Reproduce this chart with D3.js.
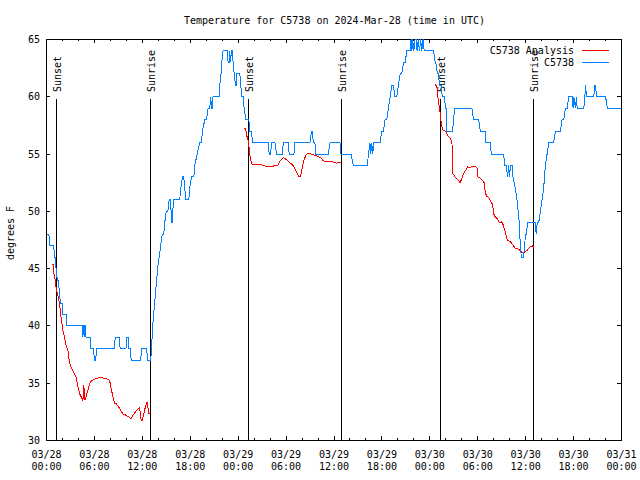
<!DOCTYPE html>
<html>
<head>
<meta charset="utf-8">
<script src="https://cdn.jsdelivr.net/npm/d3@7"></script>
<style>
  html, body { margin: 0; padding: 0; background: #fff; }
  text { font-family: "DejaVu Sans Mono", monospace; font-size: 10px; fill: #000; }
</style>
</head>
<body>
<svg id="chart" width="640" height="480"></svg>
<script>
// ---------- data (hours after 2024-03-28 00:00 UTC) ----------
const obsHours = [0.0,0.3,0.4,0.9,1.0,1.1,1.2,1.35,1.5,1.6,1.75,1.95,2.05,2.47,2.55,4.5,4.56,4.62,4.72,4.76,4.8,4.9,4.95,5.45,5.5,5.85,6.05,6.15,6.3,8.5,8.6,9.15,9.22,9.95,10.05,10.25,10.33,10.5,10.6,11.8,11.9,12.55,12.65,13.05,13.15,13.3,13.4,13.55,13.65,13.8,13.9,14.1,14.3,14.5,14.68,14.8,15.0,15.2,15.35,15.51,15.6,15.72,15.8,15.95,16.68,16.81,17.02,17.19,17.31,17.45,17.81,17.93,18.15,18.45,18.57,18.86,19.19,19.4,19.53,19.82,20.03,20.24,20.44,20.57,20.65,20.74,20.85,21.37,21.6,21.7,21.85,21.95,22.1,22.62,22.75,22.87,22.95,23.04,23.15,23.25,23.37,23.5,23.67,23.79,23.85,24.21,24.33,24.46,24.63,24.75,24.96,25.34,25.46,25.67,25.8,27.76,27.89,28.06,28.18,28.6,28.81,29.56,29.64,30.27,30.39,30.98,31.11,32.99,33.2,33.28,33.41,33.6,33.74,35.29,35.5,36.75,36.88,38.13,38.43,40.18,40.31,40.5,40.6,40.73,40.85,41.0,41.77,41.98,42.19,42.4,42.61,42.82,43.03,43.24,43.45,43.6,43.86,44.07,44.28,44.49,44.7,44.91,45.12,45.54,45.65,45.75,45.85,46.0,46.15,46.3,46.4,46.55,46.7,46.85,47.0,47.15,47.3,48.46,48.67,48.75,48.96,49.1,49.2,49.45,49.55,49.85,49.95,50.05,50.13,50.84,50.97,51.1,53.27,53.48,54.11,54.32,54.94,55.03,55.57,55.69,57.24,57.37,57.58,57.74,57.87,57.99,58.08,58.29,58.41,58.7,58.91,59.21,59.33,59.46,59.75,59.85,60.0,60.08,60.25,61.22,61.32,61.45,61.63,61.84,62.05,62.26,62.35,62.47,62.68,62.89,63.51,63.72,64.35,64.56,64.77,64.98,65.19,65.4,65.82,65.94,66.03,66.24,66.35,66.45,67.28,67.41,67.49,67.62,68.54,68.63,68.75,68.88,70.01,70.22,71.89];
const obsTemps = [48,48,47,47,46,46,45,44,44,43,42,42,41,41,40,40,39,40,40,39,40,40,39,39,38,38,37,37,38,38,39,39,38,38,39,39,38,38,37,37,38,38,37,37,38,40,41,42,43,44,45,46,47,48,48,49,50,50,51,51,50,49,50,51,51,52,53,53,52,51,51,52,53,53,54,55,56,56,57,58,58,59,59,60,59,59,60,60,60,61,62,63,64,64,63,63,64,63,64,64,63,62,61,61,62,62,61,60,60,59,58,58,57,57,56,56,55,55,56,56,55,55,56,56,55,55,56,56,57,57,56,56,55,55,56,56,55,55,54,54,55,56,55,56,55,56,56,57,57,58,58,59,60,61,61,60,60,61,62,62,63,63,64,64,65,64,65,64,65,65,64,65,64,65,64,65,64,64,63,63,62,62,61,61,60,60,59,59,57,57,58,59,59,58,58,57,57,56,56,55,55,54,54,53,54,53,54,54,53,52,51,49,47,46,46,47,48,48,49,49,48,49,49,50,51,52,53,54,55,56,56,57,57,58,58,59,59,60,60,59,60,59,60,59,59,60,61,60,60,61,61,60,60,59,59];

// analysis series: null marks a gap between nights
const anaHours = [0.67,0.84,0.92,1.09,1.21,1.42,1.63,1.76,1.88,2.05,2.26,2.47,2.68,2.76,2.88,3.09,3.30,3.51,3.72,3.93,4.14,4.35,4.56,4.68,4.81,5.06,5.31,5.48,5.73,6.23,6.65,7.07,7.48,7.90,8.11,8.32,8.53,8.74,9.15,9.57,9.99,10.41,10.62,10.83,11.25,11.66,11.79,11.87,12.0,12.17,12.37,12.54,12.67,12.75,12.92,
  18.0,
  24.75,24.96,25.05,25.17,25.34,25.46,25.67,25.80,26.09,26.72,27.14,27.55,28.18,28.60,28.93,29.23,29.64,30.06,30.56,30.90,31.19,31.40,31.65,31.82,32.03,32.24,32.57,32.78,33.20,33.62,34.03,34.45,34.66,35.08,35.71,35.92,36.34,36.67,36.88,
  42.0,
  48.67,48.88,48.96,49.09,49.21,49.30,49.38,49.51,49.63,49.92,50.13,50.34,50.55,50.76,50.84,50.88,51.18,51.47,51.80,52.01,52.22,52.51,52.72,52.93,53.27,53.69,53.90,54.02,54.32,54.52,54.82,54.94,55.15,55.45,55.65,55.86,55.99,56.20,56.41,56.62,56.83,57.04,57.24,57.45,57.66,57.74,58.08,58.41,58.70,59.12,59.33,59.54,59.75,59.96,60.17,60.59,60.88,61.0];
const anaTemps = [45.4,45.4,44.6,44.0,43.3,42.7,42.0,41.1,40.5,39.6,39.0,38.2,37.9,37.4,36.85,36.4,36.1,35.8,35.5,34.7,34.1,33.8,33.5,34.8,33.5,34.1,34.7,35.1,35.25,35.4,35.5,35.45,35.4,35.25,34.5,33.8,33.2,33.2,32.8,32.3,32.2,32.0,31.9,32.2,32.6,32.9,32.0,31.75,31.75,32.3,32.9,33.3,33.3,32.4,32.4,
  null,
  57.2,57.2,56.5,56.5,55.8,54.9,54.2,54.1,54.1,54.1,54.0,53.9,53.9,54.0,54.0,54.4,54.7,54.5,54.2,54.0,53.6,53.3,53.0,53.1,53.8,54.5,55.0,55.05,55.0,54.9,54.8,54.6,54.4,54.35,54.35,54.3,54.2,54.3,54.2,
  null,
  61.06,60.9,60.2,59.6,58.9,58.6,58.0,57.4,57.1,57.0,56.8,56.5,56.4,56.1,54.8,53.3,53.0,52.8,52.5,52.9,53.3,53.6,53.9,53.8,53.9,53.9,53.8,53.0,52.9,52.75,52.5,51.6,51.3,51.15,50.85,50.6,49.8,49.5,49.4,49.1,49.0,49.1,48.7,48.2,47.6,47.5,47.35,47.06,46.77,46.7,46.57,46.4,46.33,46.5,46.6,46.9,47.0,46.8];

const sunsetHours  = [1.27, 25.3, 49.3];
const sunriseHours = [13.03, 36.94, 60.97];

const xTickHours = [0,6,12,18,24,30,36,42,48,54,60,66,72];
const xTickDates = ["03/28","03/28","03/28","03/28","03/29","03/29","03/29","03/29","03/30","03/30","03/30","03/30","03/31"];
const xTickTimes = ["00:00","06:00","12:00","18:00","00:00","06:00","12:00","18:00","00:00","06:00","12:00","18:00","00:00"];
const xMinorHours = d3.range(0, 73, 2);
const yTicks = [30,35,40,45,50,55,60,65];

const seriesNames = ["C5738 Analysis", "C5738"];
const seriesColors = ["#ff0000", "#0080ff"];
const titleText = "Temperature for C5738 on 2024-Mar-28 (time in UTC)";
const yLabel = "degrees F";

// ---------- layout ----------
const svg = d3.select("#chart");
svg.append("rect").attr("width", 640).attr("height", 480).attr("fill", "#fff");

const L = 46, R = 621, T = 39, B = 440;
const x = d3.scaleLinear().domain([0, 72]).range([L, R]);
const y = d3.scaleLinear().domain([30, 65]).range([B, T]);

// ticks (inward, mirrored)
function tickAxis(gen, tx, ty) {
  const g = svg.append("g").attr("transform", `translate(${tx},${ty})`).call(gen);
  g.select(".domain").remove();
  g.selectAll("line").attr("stroke", "#000").attr("shape-rendering", "crispEdges");
  g.selectAll("text").remove();
  return g;
}
tickAxis(d3.axisBottom(x).tickValues(xMinorHours).tickSize(-2).tickFormat(""), 0, B);
tickAxis(d3.axisBottom(x).tickValues(xTickHours).tickSize(-4).tickFormat(""), 0, B);
tickAxis(d3.axisTop(x).tickValues(xMinorHours).tickSize(-2).tickFormat(""), 0, T);
tickAxis(d3.axisTop(x).tickValues(xTickHours).tickSize(-4).tickFormat(""), 0, T);
tickAxis(d3.axisLeft(y).tickValues(yTicks).tickSize(-4).tickFormat(""), L, 0);
tickAxis(d3.axisRight(y).tickValues(yTicks).tickSize(-4).tickFormat(""), R, 0);

// border
svg.append("rect")
  .attr("x", L + 0.5).attr("y", T + 0.5)
  .attr("width", R - L).attr("height", B - T)
  .attr("fill", "none").attr("stroke", "#000").attr("shape-rendering", "crispEdges");

// tick labels
const xl = svg.append("g");
xTickHours.forEach((h, i) => {
  const t = xl.append("text").attr("text-anchor", "middle");
  t.append("tspan").attr("x", x(h) + 0.5).attr("y", 458).text(xTickDates[i]);
  t.append("tspan").attr("x", x(h) + 0.5).attr("y", 470).text(xTickTimes[i]);
});
svg.append("g").selectAll("text").data(yTicks).join("text")
  .attr("x", 40).attr("y", d => y(d) + 0.5).attr("dy", "0.35em")
  .attr("text-anchor", "end").text(d => d);

// title & axis label
svg.append("text").attr("x", (L + R) / 2 + 1).attr("y", 24)
  .attr("text-anchor", "middle").text(titleText);
svg.append("text").attr("transform", "translate(14,233) rotate(-90)")
  .attr("text-anchor", "middle").text(yLabel);

// sunrise / sunset markers
const sunEvents = sunsetHours.map(h => ({h, label: "Sunset"}))
  .concat(sunriseHours.map(h => ({h, label: "Sunrise"})));
sunEvents.forEach(e => {
  const px = Math.round(x(e.h)) + 0.5;
  svg.append("line").attr("x1", px).attr("x2", px).attr("y1", 99).attr("y2", B)
    .attr("stroke", "#000").attr("shape-rendering", "crispEdges");
  svg.append("text").attr("transform", `translate(${px + 4.5},92) rotate(-90)`)
    .attr("text-anchor", "start").text(e.label);
});

// data lines
const obs = obsHours.map((h, i) => ({h, v: obsTemps[i]}));
const ana = anaHours.map((h, i) => ({h, v: anaTemps[i]}));
const line = d3.line().defined(d => d.v != null).x(d => x(d.h) + 0.5).y(d => y(d.v) + 0.5);

svg.append("path").datum(ana).attr("d", line)
  .attr("fill", "none").attr("stroke", seriesColors[0]).attr("stroke-width", 1)
  .attr("shape-rendering", "crispEdges");
svg.append("path").datum(obs).attr("d", line)
  .attr("fill", "none").attr("stroke", seriesColors[1]).attr("stroke-width", 1)
  .attr("shape-rendering", "crispEdges");

// legend
const legY = [50, 62];
seriesNames.forEach((n, i) => {
  svg.append("text").attr("x", 574).attr("y", legY[i] + 4).attr("text-anchor", "end").text(n);
  svg.append("line").attr("x1", 582).attr("x2", 609).attr("y1", legY[i] + 0.5).attr("y2", legY[i] + 0.5)
    .attr("stroke", seriesColors[i]).attr("shape-rendering", "crispEdges");
});
</script>
</body>
</html>
